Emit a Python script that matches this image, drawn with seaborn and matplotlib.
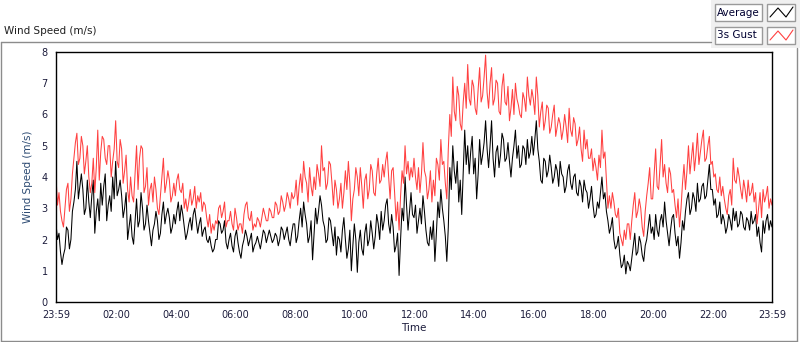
import matplotlib.pyplot as plt
import matplotlib.dates as mdates
from matplotlib.patches import Rectangle
from matplotlib.lines import Line2D
import seaborn as sns
import pandas as pd

sns.set_style("white")
plt.rcParams['font.family'] = ['DejaVu Sans']

# 3-minute samples from 23:59 to 23:59, one row per 2 hours
avg_speed = [
    2.5, 2.0, 2.2, 1.6, 1.2, 1.5, 1.7, 2.4, 2.3, 1.7, 2.0, 2.9, 3.2, 3.6, 4.5, 3.3, 3.7, 4.1, 3.6, 2.8,
    3.0, 3.9, 3.2, 2.7, 3.4, 3.9, 2.2, 2.9, 3.3, 2.6, 3.8, 3.1, 3.7, 4.1, 2.6, 3.1, 3.4, 2.9, 4.0, 3.3,
    4.5, 3.4, 3.6, 3.9, 3.4, 2.7, 3.0, 3.5, 2.0, 2.4, 2.8, 2.1, 1.85, 2.6, 3.3, 2.4, 2.6, 3.5, 3.0, 2.3,
    2.5, 3.1, 2.6, 2.2, 1.8, 2.3, 2.5, 2.9, 2.6, 2.0, 2.2, 2.8, 3.2, 2.5, 2.8, 3.0, 2.7, 2.2, 2.4, 2.8,
    2.5, 2.9, 3.2, 2.6, 3.1, 2.8, 2.4, 2.0, 2.2, 2.5, 2.7, 2.3, 2.8, 3.0, 2.6, 2.2, 2.5, 2.7, 2.1, 2.3,
    2.4, 2.0, 1.9, 2.1, 1.8, 1.6, 1.7, 2.0, 2.0, 2.6, 2.5, 2.2, 2.3, 2.6, 1.9, 1.7, 2.0, 2.2, 1.8, 1.6,
    2.1, 2.3, 1.9, 1.6, 1.4, 1.8, 2.0, 2.3, 2.1, 1.8, 2.0, 2.2, 1.6, 1.8, 1.9, 2.1, 1.9, 1.7, 2.0, 2.3,
    2.2, 1.9, 2.1, 2.3, 2.1, 1.9, 2.0, 2.2, 2.1, 1.8, 2.0, 2.4, 2.3, 2.0, 2.2, 2.4, 2.0, 1.8, 2.2, 2.5,
    2.5, 1.9, 2.1, 2.6, 3.0, 2.4, 3.2, 2.8, 2.5, 1.9, 2.1, 2.6, 1.35, 2.2, 3.0, 2.5, 2.9, 3.4, 3.1, 2.6,
    2.4, 1.9, 2.0, 2.7, 2.6, 2.2, 1.8, 2.4, 1.5, 2.1, 2.0, 1.6, 2.3, 2.7, 2.0, 1.4, 1.7, 2.3, 1.0, 1.8,
    2.5, 2.0, 0.95, 1.9, 2.3, 1.7, 1.5, 2.2, 2.5, 1.8, 2.0, 2.6, 2.2, 1.7, 2.1, 2.8, 2.5, 2.0, 2.9, 2.3,
    2.6, 3.1, 3.3, 2.5, 2.2, 2.8, 2.4, 1.6, 1.8, 2.2, 0.85, 2.0, 3.0, 2.6, 4.0, 3.1, 2.3, 2.9, 3.5, 2.8,
    2.7, 3.1, 2.2, 2.6, 3.0, 2.5, 3.4, 2.9, 2.3, 1.9, 1.8, 2.4, 2.0, 2.6, 1.3, 2.2, 3.2, 2.7, 3.6, 3.0,
    2.6, 2.1, 1.3, 2.4, 4.3, 3.6, 5.0, 4.2, 3.8, 4.5, 3.2, 3.9, 2.8, 4.2, 5.5, 4.4, 5.0, 4.1, 4.8, 5.3,
    4.1, 4.6, 3.3, 4.1, 5.2, 4.4, 4.7, 5.1, 5.8, 4.9, 4.3, 5.0, 5.8, 4.6, 4.0, 4.8, 5.0, 4.3, 4.7, 5.4,
    5.2, 4.5, 4.6, 5.1, 4.5, 4.0, 4.6, 5.0, 5.5, 4.6, 5.0, 4.3, 4.4, 5.0, 4.9, 4.4, 5.2, 4.6, 4.8, 5.3,
    4.7, 5.2, 5.8, 4.9, 4.5, 3.9, 3.8, 4.6, 4.5, 4.0, 4.2, 4.7, 4.3, 3.8, 4.0, 4.4, 4.2, 3.7, 4.5, 4.1,
    4.0, 3.5, 3.7, 4.2, 4.4, 3.8, 3.6, 4.0, 4.1, 3.5, 3.4, 3.9, 3.7, 3.2, 3.9, 3.6, 3.5, 3.0, 3.3, 3.7,
    3.1, 2.7, 2.8, 3.2, 3.0, 3.5, 4.0, 3.3, 3.5, 2.9, 2.6, 2.2, 2.4, 2.7, 2.0, 1.7, 1.8, 2.1, 1.5, 1.1,
    1.2, 1.5, 0.9, 1.3, 1.2, 1.0, 1.4, 1.8, 2.2, 1.5, 1.6, 2.1, 1.9, 1.5, 1.3, 1.8, 2.0, 2.4, 2.8, 2.2,
    2.4, 2.0, 2.8, 2.3, 2.1, 2.6, 2.8, 2.4, 3.2, 2.6, 2.2, 1.8, 2.3, 2.7, 2.8, 2.2, 1.8, 2.1, 1.4, 1.9,
    2.6, 2.3, 2.9, 3.3, 3.5, 2.8, 3.0, 3.5, 3.3, 2.9, 3.8, 3.2, 3.3, 3.7, 3.8, 3.3, 3.4, 3.9, 4.4, 3.6,
    3.6, 3.1, 3.3, 2.7, 2.8, 3.2, 2.5, 2.8, 2.6, 2.2, 2.4, 2.8, 2.6, 2.3, 3.0, 2.6, 2.9, 2.4, 2.5, 2.9,
    2.8, 2.4, 2.3, 2.7, 2.6, 2.3, 2.9, 2.5, 2.6, 2.8, 2.1, 2.4, 1.9, 1.6, 2.6, 2.2, 2.6, 2.8, 2.3, 2.6,
    2.4,
]
gust_speed = [
    4.0, 3.1, 3.5, 2.9, 2.6, 2.4, 3.0, 3.6, 3.8, 2.9, 3.3, 4.1, 4.6, 5.1, 5.4, 4.4, 4.6, 5.3, 5.0, 4.1,
    4.5, 5.0, 4.0, 3.5, 3.8, 4.6, 3.5, 4.3, 5.5, 3.9, 4.8, 5.3, 5.2, 4.6, 4.4, 5.0, 5.0, 4.0, 4.5, 4.9,
    5.8, 4.5, 4.3, 5.2, 4.9, 3.8, 4.2, 4.7, 3.6, 3.2, 4.0, 3.4, 3.2, 4.1, 5.0, 3.6, 4.6, 5.0, 4.9, 3.5,
    3.7, 4.3, 3.1, 3.6, 3.8, 3.2, 4.0, 3.6, 3.0, 2.8, 3.4, 4.0, 4.6, 3.5, 3.8, 4.2, 3.9, 3.2, 3.4, 3.8,
    3.4, 3.9, 4.1, 3.6, 3.5, 3.8, 3.0, 3.3, 2.9, 3.2, 3.6, 3.1, 3.3, 3.7, 3.0, 3.4, 3.2, 3.5, 2.9, 3.2,
    3.1, 2.7, 2.4, 2.8, 2.2, 2.5, 2.3, 2.6, 2.5, 3.0, 3.1, 2.7, 2.9, 3.2, 2.4, 2.6, 2.6, 2.9, 2.5, 2.3,
    3.0, 2.7, 2.3, 2.5, 2.5, 2.2, 2.8, 3.1, 3.2, 2.7, 2.6, 2.9, 2.3, 2.5, 2.4, 2.7, 2.6, 2.4, 2.7, 3.0,
    2.8, 2.6, 2.6, 3.0, 2.9, 2.7, 2.7, 3.2, 3.1, 2.8, 2.9, 3.4, 3.2, 2.9, 3.1, 3.5, 3.3, 3.0, 3.5, 3.3,
    3.4, 3.9, 3.1, 3.7, 4.1, 3.5, 4.5, 4.0, 3.8, 3.2, 4.3, 3.7, 3.4, 4.0, 3.6, 4.4, 4.1, 3.7, 5.0, 4.2,
    4.3, 3.6, 3.8, 4.5, 4.4, 3.8, 3.1, 3.9, 3.6, 3.0, 3.3, 3.8, 3.0, 3.5, 4.2, 3.6, 4.5, 3.8, 2.6, 3.3,
    3.6, 4.3, 4.0, 3.4, 4.3, 3.7, 3.0, 3.9, 4.1, 3.3, 3.6, 4.4, 4.2, 3.5, 3.4, 4.1, 4.6, 3.8, 3.9, 4.4,
    4.0, 4.5, 4.8, 4.0, 3.3, 4.2, 4.3, 3.5, 2.6, 3.2, 2.3, 3.4, 4.2, 3.8, 5.0, 4.1, 4.5, 3.9, 4.3, 4.0,
    4.6, 4.0, 3.6, 4.3, 3.5, 4.1, 5.1, 4.2, 4.0, 3.3, 3.6, 4.2, 3.2, 3.9, 3.4, 4.6, 4.4, 3.9, 5.2, 4.4,
    4.5, 3.8, 3.3, 4.9, 6.0, 5.3, 7.2, 6.1, 5.8, 6.9, 6.6, 5.7, 5.5, 6.4, 7.0, 6.2, 7.6, 6.5, 6.3, 7.1,
    6.9, 6.2, 6.0, 6.8, 7.5, 6.4, 6.6, 7.2, 7.9, 6.7, 6.2, 7.0, 7.5, 6.3, 6.5, 7.1, 7.0, 6.1, 6.0, 6.9,
    7.3, 6.4, 6.3, 6.9, 5.8, 6.2, 6.8, 6.0, 7.0, 6.5, 6.3, 6.0, 5.9, 6.7, 6.5, 6.1, 7.2, 6.6, 6.3, 6.8,
    6.5, 6.0, 7.2, 6.6, 5.6, 6.1, 6.4, 5.5, 5.8, 6.3, 6.2, 5.4, 5.6, 6.0, 6.3, 5.3, 5.6, 5.9, 5.7, 5.2,
    5.5, 6.0, 5.6, 5.1, 6.2, 5.5, 5.3, 5.9, 5.7, 5.0, 5.2, 5.6, 4.9, 4.5, 5.5, 4.9, 5.2, 4.6, 4.6, 4.9,
    4.2, 4.6, 4.3, 3.9, 4.7, 4.3, 5.5, 4.6, 4.8, 3.9, 3.0, 3.4, 3.0, 3.5, 3.2, 2.8, 2.7, 3.0, 2.2, 2.0,
    1.8, 2.3, 2.0, 2.5, 2.5, 2.0, 2.6, 3.1, 3.5, 2.7, 2.9, 3.3, 3.0, 2.4, 2.1, 2.9, 3.4, 3.8, 4.3, 3.3,
    3.3, 4.1, 4.9, 3.7, 3.6, 4.4, 5.2, 4.0, 4.4, 3.8, 3.5, 4.3, 4.1, 3.5, 3.6, 3.1, 2.7, 3.3, 2.4, 3.0,
    3.8, 4.4, 3.6, 4.2, 5.0, 4.1, 4.6, 5.1, 4.2, 4.7, 5.4, 4.4, 4.8, 5.2, 5.5, 4.5, 4.6, 5.0, 5.3, 4.4,
    4.5, 4.0, 4.1, 3.6, 3.5, 4.0, 3.4, 3.7, 3.3, 3.0, 2.8, 3.4, 3.6, 3.1, 4.6, 3.9, 3.8, 4.3, 4.0, 3.6,
    3.3, 3.9, 3.6, 3.2, 3.9, 3.4, 3.5, 3.8, 3.2, 3.5, 2.5, 3.0, 3.5, 2.7, 3.6, 3.2, 3.4, 3.7, 3.0, 3.3,
    3.1,
]
series_names = ['Average', '3s Gust']
series_colors = ['black', '#ff4040']

start, end = pd.Timestamp('2024-01-01 23:59'), pd.Timestamp('2024-01-02 23:59')
times = pd.date_range(start, end, periods=len(avg_speed))
df = pd.DataFrame({'Time': times, 'Average': avg_speed, '3s Gust': gust_speed})

W, H = 800, 342


def fx(px):
    return px / W


def fy(py):
    return 1 - py / H


fig = plt.figure(figsize=(W / 100, H / 100), dpi=100)
ax = fig.add_axes([fx(56), fy(302), fx(772) - fx(56), fy(52) - fy(302)])

for name, col in zip(series_names, series_colors):
    sns.lineplot(data=df, x='Time', y=name, ax=ax, color=col, lw=0.75)

ax.set_xlim(start, end)
ax.set_ylim(0, 8)
ax.set_yticks(range(0, 9))

major = [start] + list(pd.date_range('2024-01-02 02:00', '2024-01-02 22:00', freq='2h')) + [end]
ax.set_xticks(major)
ax.xaxis.set_major_formatter(mdates.DateFormatter('%H:%M'))
ax.set_xticks(pd.date_range('2024-01-02 00:20', '2024-01-02 23:40', freq='20min'), minor=True)

tick_col = '#1c1c3c'
ax.tick_params(axis='both', which='major', direction='out', length=4, width=0.8,
               labelsize=7, colors='black', labelcolor=tick_col, pad=2)
ax.tick_params(axis='x', which='minor', direction='out', length=3, width=0.8, colors='black')
for s in ax.spines.values():
    s.set_color('black')
    s.set_linewidth(1)

ax.set_xlabel('Time', fontsize=7.5, color=tick_col, labelpad=2)
ax.set_ylabel('Wind Speed (m/s)', fontsize=7.5, color='#2c4a72', labelpad=6)

# outer frame and caption
frame_col = '#8c8c8c'
fig.add_artist(Line2D([fx(1), fx(1)], [fy(42), fy(341)], color=frame_col, lw=1))
fig.add_artist(Line2D([fx(1), fx(711)], [fy(42), fy(42)], color=frame_col, lw=1))
fig.add_artist(Line2D([fx(1), fx(797)], [fy(341), fy(341)], color=frame_col, lw=1))
fig.add_artist(Line2D([fx(797), fx(797)], [fy(48), fy(341)], color=frame_col, lw=1))
fig.add_artist(Rectangle((fx(711), fy(48)), fx(800) - fx(711), fy(0) - fy(48),
                         transform=fig.transFigure, facecolor='#f0f0f0', edgecolor='none'))
fig.text(fx(4), fy(31), 'Wind Speed (m/s)', fontsize=7.5, color='#202020', va='center', ha='left')

# legend boxes
for i, (name, col) in enumerate(zip(series_names, series_colors)):
    top = 4 + i * 23
    fig.add_artist(Rectangle((fx(715), fy(top + 17)), fx(762) - fx(715), fy(top) - fy(top + 17),
                             transform=fig.transFigure, facecolor='white', edgecolor='#9a9a9a', lw=1))
    fig.text(fx(717), fy(top + 8.5), name, fontsize=7.5, color='#000030', va='center', ha='left')
    fig.add_artist(Rectangle((fx(767), fy(top + 17)), fx(795) - fx(767), fy(top) - fy(top + 17),
                             transform=fig.transFigure, facecolor='white', edgecolor='#9a9a9a', lw=1))
    fig.add_artist(Line2D([fx(770), fx(778), fx(786), fx(793)],
                          [fy(top + 13), fy(top + 4), fy(top + 13), fy(top + 3)],
                          color=col, lw=0.8))

fig.savefig('out.png', dpi=100)
